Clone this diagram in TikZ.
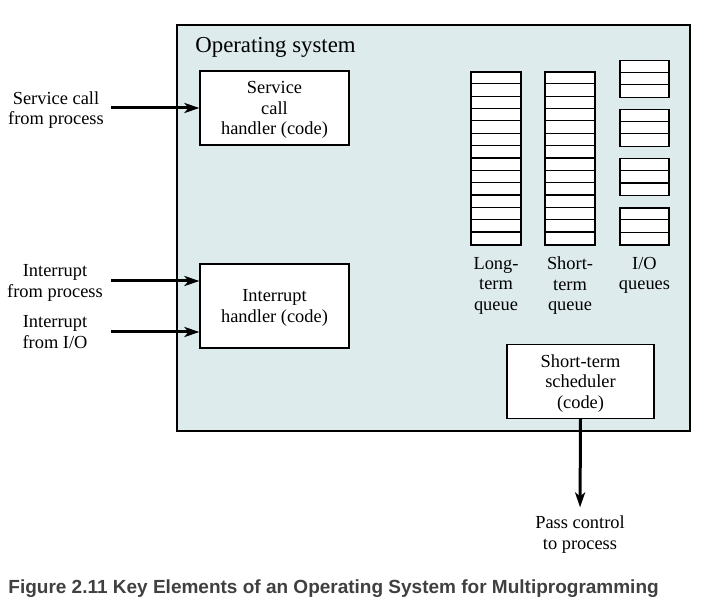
\documentclass[tikz,border=0pt]{standalone}
\usepackage{fontspec}
\setmainfont{Liberation Serif}
\newfontfamily\captionfont{Liberation Sans}
\usepackage{xcolor}
\usepackage{tikz}
\usetikzlibrary{positioning,arrows.meta}
\definecolor{osfill}{HTML}{DDEBEC}
\definecolor{capgray}{HTML}{404040}

\begin{document}
\begin{tikzpicture}[x=0.5pt,y=-0.5pt,
    every node/.style={font=\fontsize{9.2}{10.3}\selectfont,align=center,inner sep=0pt,text depth=0pt},
    codebox/.style={draw,line width=0.6pt,fill=white,minimum width=74.5pt},
    cell/.style={draw,line width=0.6pt,fill=white},
    flow/.style={line width=1.5pt,-{Stealth[length=7.5pt,width=5pt,inset=2pt]}}]
    \useasboundingbox (0,0) rectangle (713,609);
    % operating system area
    \draw[fill=osfill,line width=0.6pt] (177,25) rectangle (690,431);
    \node[anchor=west,font=\fontsize{11.4}{13}\selectfont] (ostitle) at (195,45) {Operating system};
    % handlers
    \node[codebox,minimum height=37pt] (svc) at (274.5,108) {Service\\call\\handler (code)};
    \node[codebox,minimum height=42pt] (irq) at (274.5,306) {Interrupt\\handler (code)};
    \node[codebox,minimum width=73.5pt,minimum height=37pt] (sched) at (580.5,381.5) {Short-term\\scheduler\\(code)};
    % incoming events
    \node (svclbl) at (56,108) {Service call\\from process};
    \node (intp) at (55,281) {Interrupt\\from process};
    \node (inio) at (55,332) {Interrupt\\from I/O};
    \coordinate (src) at (111,0);
    \draw[flow] (src |- svclbl) -- (svc.west |- svclbl);
    \draw[flow] (src |- intp) -- (irq.west |- intp);
    \draw[flow] (src |- inio) -- (irq.west |- inio);
    % queues
    \foreach \name/\x in {ltq/496,stq/570} {
      \node[cell,minimum width=25pt,minimum height=86.5pt] (\name) at (\x,158.5) {};
      \foreach \k in {1,...,13}
        \draw[line width=0.6pt] ([yshift=-\k*6.179pt]\name.north west) -- ([yshift=-\k*6.179pt]\name.north east);
    }
    \foreach \i in {0,...,3} {
      \node[cell,minimum width=24.5pt,minimum height=18.5pt] (ioq\i) at (644.5,79+49.2*\i) {};
      \foreach \k in {1,2}
        \draw[line width=0.6pt] ([yshift=-\k*6.167pt]ioq\i.north west) -- ([yshift=-\k*6.167pt]ioq\i.north east);
    }
    \node[below=5.5pt of ltq] (ltqlbl) {Long-\\term\\queue};
    \node[below=5.5pt of stq] (stqlbl) {Short-\\term\\queue};
    \node[below=5.5pt of ioq3] (ioqlbl) {I/O\\queues};
    % dispatch
    \node (pass) at (580,532.5) {Pass control\\to process};
    \draw[flow,shorten >=4pt] (sched.south) -- (pass.north);
    \node[anchor=west,text=capgray,font=\captionfont\bfseries\fontsize{9.5}{11}\selectfont] (caption) at (8,587)
      {Figure 2.11 Key Elements of an Operating System for Multiprogramming};
\end{tikzpicture}
\end{document}
